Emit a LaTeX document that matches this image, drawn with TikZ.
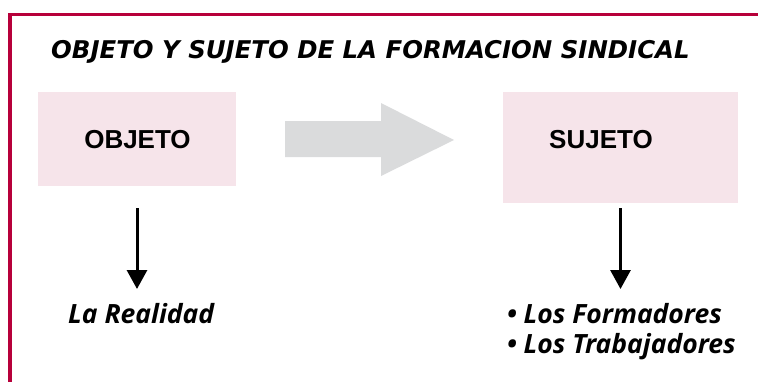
\documentclass[tikz,border=0pt]{standalone}
\usepackage{fontspec}
\setmainfont{Liberation Sans}
\newfontfamily\titlefont{DejaVu Sans}
\newfontfamily\hum{Open Sans}
\usetikzlibrary{arrows.meta}
\definecolor{framered}{RGB}{183,0,58}
\definecolor{boxpink}{RGB}{246,228,234}
\definecolor{arrowgray}{RGB}{218,219,220}
\tikzset{
  pinkbox/.style={fill=boxpink, draw=none, inner sep=0pt},
  boxlabel/.style={font=\fontsize{26}{26}\selectfont\bfseries, anchor=base, inner sep=0pt},
  itemtext/.style={font=\hum\fontsize{26.5}{26.5}\selectfont\bfseries\itshape, anchor=base west, inner sep=0pt},
  downarrow/.style={line width=3pt, -{Triangle[width=20pt,length=19pt]}},
}
\begin{document}
\begin{tikzpicture}[x=1pt,y=-1pt]
\useasboundingbox (0,0) rectangle (758,381);
% frame
\draw[framered, line width=3.4pt] (10,400) -- (10,14.2) -- (780,14.2);
% title
\node[anchor=base west, inner sep=0pt, font=\titlefont\fontsize{24.4}{24.4}\selectfont\bfseries\itshape] (title) at (51,58) {OBJETO Y SUJETO DE LA FORMACION SINDICAL};
% boxes
\node[pinkbox, minimum width=198pt, minimum height=94pt] (objbox) at (137,139) {};
\node[pinkbox, minimum width=235pt, minimum height=111pt] (sujbox) at (620.5,147.5) {};
\node[boxlabel] (objlbl) at (137.5,148) {OBJETO};
\node[boxlabel] (sujlbl) at (601,148) {SUJETO};
% gray block arrow
\fill[arrowgray] (285,121) -- (381,121) -- (381,103) -- (454,140) -- (381,176) -- (381,157) -- (285,157) -- cycle;
% texts
\node[itemtext] (realidad) at (68,323) {La Realidad};
\node[itemtext] (form) at (507,323) {\textbullet\ Los Formadores};
\node[itemtext] (trab) at (507,353) {\textbullet\ Los Trabajadores};
% down arrows
\coordinate (tipL) at (137,289);
\coordinate (tipR) at (620.5,289);
\draw[downarrow, shorten <=22pt] (objbox.south) -- (tipL);
\draw[downarrow, shorten <=5pt] (sujbox.south) -- (tipR);
\end{tikzpicture}
\end{document}
